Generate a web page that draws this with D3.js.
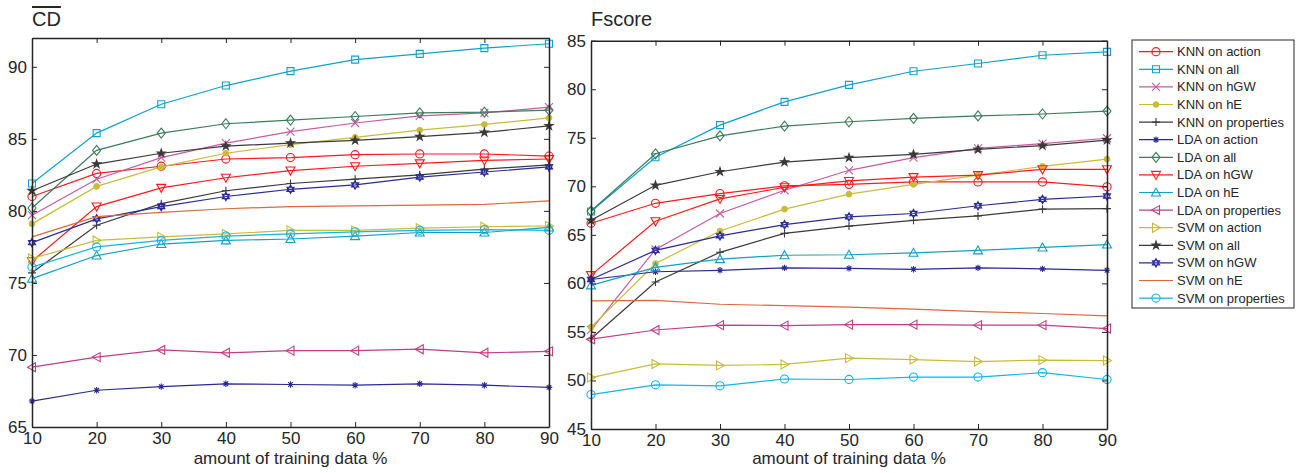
<!DOCTYPE html>
<html>
<head>
<meta charset="utf-8">
<script src="https://cdn.jsdelivr.net/npm/d3@7"></script>
<style>
  body { margin: 0; background: #fff; }
  svg text { font-family: "Liberation Sans", Arial, Helvetica, sans-serif; fill: #262626; }
</style>
</head>
<body>
<div id="chart"></div>
<script>
// training set sizes on the x axis
const trainingSizes = [10, 20, 30, 40, 50, 60, 70, 80, 90];

const seriesNames = [
  "KNN on action", "KNN on all", "KNN on hGW", "KNN on hE", "KNN on properties",
  "LDA on action", "LDA on all", "LDA on hGW", "LDA on hE", "LDA on properties",
  "SVM on action", "SVM on all", "SVM on hGW", "SVM on hE", "SVM on properties"
];

// left panel: mean CD
const cdValues = [
  [81.0, 82.6, 83.1, 83.6, 83.7, 83.9, 83.95, 83.95, 83.8],
  [81.9, 85.4, 87.4, 88.7, 89.7, 90.5, 90.9, 91.3, 91.6],
  [79.7, 82.2, 83.7, 84.7, 85.5, 86.1, 86.6, 86.8, 87.2],
  [79.1, 81.7, 83.05, 84.0, 84.6, 85.1, 85.6, 86.0, 86.45],
  [75.7, 79.0, 80.5, 81.4, 81.9, 82.2, 82.5, 82.9, 83.2],
  [66.8, 67.55, 67.8, 68.0, 67.95, 67.9, 68.0, 67.9, 67.75],
  [80.2, 84.2, 85.4, 86.05, 86.3, 86.55, 86.8, 86.85, 87.0],
  [76.5, 80.3, 81.6, 82.3, 82.8, 83.1, 83.3, 83.5, 83.6],
  [75.3, 76.9, 77.7, 77.95, 78.05, 78.25, 78.5, 78.5, 78.85],
  [69.15, 69.85, 70.35, 70.15, 70.3, 70.3, 70.4, 70.15, 70.25],
  [76.7, 77.95, 78.2, 78.4, 78.65, 78.65, 78.8, 78.9, 78.95],
  [81.4, 83.25, 84.0, 84.5, 84.7, 84.9, 85.15, 85.45, 85.9],
  [77.8, 79.45, 80.3, 81.0, 81.5, 81.8, 82.35, 82.7, 83.05],
  [78.2, 79.6, 79.9, 80.15, 80.3, 80.35, 80.4, 80.45, 80.7],
  [76.1, 77.5, 77.95, 78.25, 78.4, 78.55, 78.65, 78.7, 78.65]
];

// right panel: Fscore
const fscoreValues = [
  [66.2, 68.25, 69.25, 70.05, 70.2, 70.45, 70.45, 70.45, 69.95],
  [67.4, 73.0, 76.3, 78.7, 80.45, 81.85, 82.65, 83.5, 83.85],
  [55.2, 63.5, 67.2, 69.6, 71.65, 72.95, 73.9, 74.4, 74.95],
  [55.5, 62.05, 65.4, 67.65, 69.2, 70.2, 71.15, 72.05, 72.8],
  [54.3, 60.15, 63.2, 65.15, 65.9, 66.5, 66.95, 67.65, 67.7],
  [60.4, 61.2, 61.35, 61.6, 61.55, 61.45, 61.6, 61.5, 61.35],
  [67.45, 73.35, 75.2, 76.2, 76.65, 77.0, 77.25, 77.45, 77.75],
  [60.85, 66.4, 68.7, 69.9, 70.55, 70.95, 71.15, 71.75, 71.75],
  [59.8, 61.65, 62.5, 62.9, 62.95, 63.15, 63.4, 63.7, 64.0],
  [54.25, 55.2, 55.7, 55.65, 55.75, 55.75, 55.7, 55.7, 55.35],
  [50.3, 51.7, 51.55, 51.65, 52.3, 52.15, 51.95, 52.1, 52.05],
  [66.5, 70.1, 71.5, 72.5, 72.95, 73.3, 73.8, 74.2, 74.75],
  [60.4, 63.4, 64.9, 66.05, 66.85, 67.2, 68.0, 68.65, 69.0],
  [58.2, 58.25, 57.85, 57.7, 57.55, 57.35, 57.1, 56.9, 56.65],
  [48.55, 49.55, 49.45, 50.15, 50.1, 50.35, 50.35, 50.8, 50.1]
];

const cdTicks = [65, 70, 75, 80, 85, 90];
const fscoreTicks = [45, 50, 55, 60, 65, 70, 75, 80, 85];

// line styles, one per series
const seriesColors = [
  "#ff1a1a", "#10a0d0", "#c85aa0", "#c8bc3c", "#3a3a3a",
  "#2a2a96", "#3c7c5a", "#ff1a1a", "#12a0c8", "#c43c86",
  "#c8bc3c", "#3a3a3a", "#2a2a9c", "#e0683a", "#14b4ec"
];
const seriesMarkers = [
  "circle", "square", "cross", "dot", "plus",
  "asterisk", "diamond", "triDown", "triUp", "triLeft",
  "triRight", "star", "hexagram", "none", "circle"
];

const markerPaths = {
  circle: d3.symbol(d3.symbolCircle, 52)(),
  dot: d3.symbol(d3.symbolCircle, 24)(),
  star: d3.symbol(d3.symbolStar, 20)(),
  square: "M-3.5,-3.5h7v7h-7z",
  cross: "M-4,-4L4,4M-4,4L4,-4",
  plus: "M-4,0H4M0,-4V4",
  asterisk: "M-3.2,0H3.2M0,-3.2V3.2M-2.3,-2.3L2.3,2.3M-2.3,2.3L2.3,-2.3",
  diamond: "M0,-5L4,0L0,5L-4,0Z",
  triDown: "M-4.5,-3.5H4.5L0,4.5Z",
  triUp: "M-4.5,3.5H4.5L0,-4.5Z",
  triLeft: "M3.5,-4.5V4.5L-4.5,0Z",
  triRight: "M-3.5,-4.5V4.5L4.5,0Z",
  hexagram: "M0,-4.2L3.6,2.1L-3.6,2.1Z M0,4.2L3.6,-2.1L-3.6,-2.1Z"
};
const filledMarkers = ["dot", "star"];

const svg = d3
  .select("#chart")
  .append("svg")
  .attr("width", 1310)
  .attr("height", 473);

function drawMarker(g, type, color, x, y) {
  if (type === "none") return;
  g.append("path")
    .attr("d", markerPaths[type])
    .attr("transform", `translate(${x},${y})`)
    .attr("fill", filledMarkers.includes(type) ? color : "none")
    .attr("stroke", color)
    .attr("stroke-width", 1.1);
}

function drawPanel(opts) {
  const x = d3.scaleLinear().domain([10, 90]).range([opts.left, opts.right]);
  const y = d3.scaleLinear().domain(opts.domain).range([opts.bottom, opts.top]);
  const g = svg.append("g");

  const line = d3
    .line()
    .x((d, i) => x(trainingSizes[i]))
    .y((d) => y(d));

  opts.values.forEach((vals, s) => {
    g.append("path")
      .datum(vals)
      .attr("fill", "none")
      .attr("stroke", seriesColors[s])
      .attr("stroke-width", 1.2)
      .attr("d", line);
    vals.forEach((v, i) =>
      drawMarker(g, seriesMarkers[s], seriesColors[s], x(trainingSizes[i]), y(v))
    );
  });

  // box with inward ticks on every side
  const axes = [
    { axis: d3.axisBottom(x).tickValues(trainingSizes), at: `translate(0,${opts.bottom})`, labels: true },
    { axis: d3.axisLeft(y).tickValues(opts.ticks), at: `translate(${opts.left},0)`, labels: true },
    { axis: d3.axisTop(x).tickValues(trainingSizes), at: `translate(0,${opts.top})`, labels: false },
    { axis: d3.axisRight(y).tickValues(opts.ticks), at: `translate(${opts.right},0)`, labels: false }
  ];
  axes.forEach((a) => {
    a.axis.tickSizeInner(-5).tickSizeOuter(0).tickPadding(a.labels ? 5 : 0);
    if (!a.labels) a.axis.tickFormat("");
    const ag = g.append("g").attr("transform", a.at).call(a.axis);
    ag.select(".domain").attr("stroke", "#262626").attr("stroke-width", 1.5);
    ag.selectAll(".tick line").attr("stroke", "#262626").attr("stroke-width", 1);
    ag.selectAll("text")
      .attr("fill", "#262626")
      .style("font-size", "17px")
      .style("font-family", '"Liberation Sans", Arial, sans-serif');
  });

  g.append("text")
    .attr("x", (opts.left + opts.right) / 2)
    .attr("y", 464)
    .attr("text-anchor", "middle")
    .style("font-size", "17px")
    .text("amount of training data %");

  const title = g
    .append("text")
    .attr("x", opts.left)
    .attr("y", 26)
    .style("font-size", "20px")
    .text(opts.title);
  if (opts.overline) {
    title.attr("text-decoration", "overline");
  }
}

drawPanel({
  left: 32, right: 549, top: 38, bottom: 427,
  domain: [65, 92], ticks: cdTicks, values: cdValues,
  title: "CD", overline: true
});

drawPanel({
  left: 591, right: 1107, top: 40.7, bottom: 429,
  domain: [45, 85], ticks: fscoreTicks, values: fscoreValues,
  title: "Fscore", overline: false
});

// legend
const legend = svg.append("g").attr("transform", "translate(1132,40)");
legend
  .append("rect")
  .attr("width", 162)
  .attr("height", 268)
  .attr("fill", "#fff")
  .attr("stroke", "#262626")
  .attr("stroke-width", 1);

seriesNames.forEach((name, s) => {
  const ry = 11.7 + s * 17.6;
  legend
    .append("line")
    .attr("x1", 7)
    .attr("x2", 41)
    .attr("y1", ry)
    .attr("y2", ry)
    .attr("stroke", seriesColors[s])
    .attr("stroke-width", 1.2);
  drawMarker(legend, seriesMarkers[s], seriesColors[s], 24, ry);
  legend
    .append("text")
    .attr("x", 45)
    .attr("y", ry)
    .attr("dy", "0.35em")
    .style("font-size", "13px")
    .text(name);
});
</script>
</body>
</html>
